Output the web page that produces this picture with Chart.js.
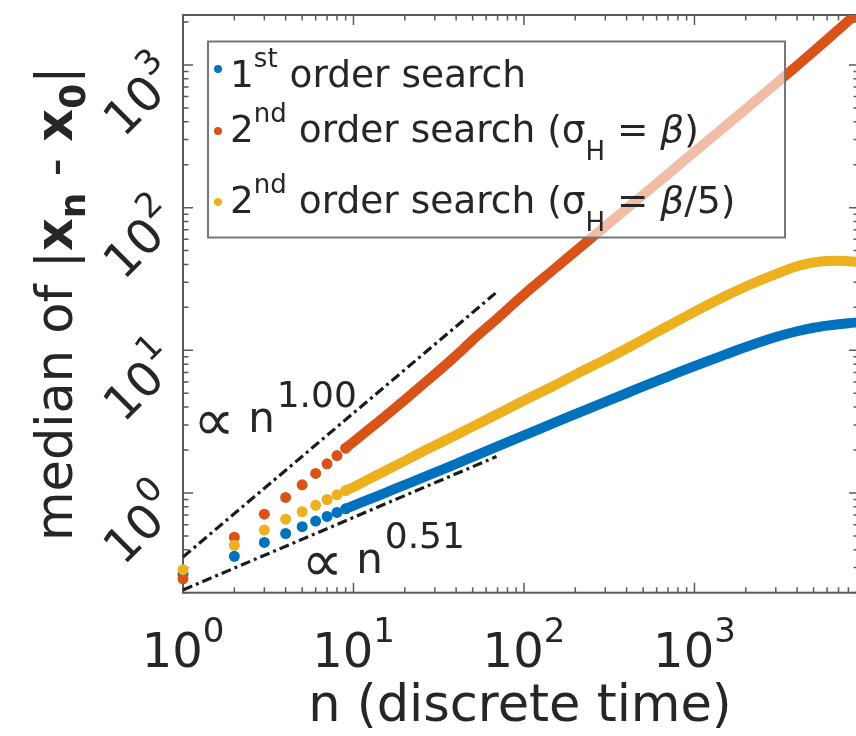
<!DOCTYPE html>
<html>
<head>
<meta charset="utf-8">
<script src="https://cdn.jsdelivr.net/npm/chart.js@4.4.1/dist/chart.umd.min.js"></script>
<style>
  html, body { margin: 0; padding: 0; background: #fff; overflow: hidden; width: 856px; height: 736px; }
  canvas { display: block; }
</style>
</head>
<body>
<canvas id="chart" width="870" height="736"></canvas>
<script>
// discrete time steps sampled along each curve
const nSteps = [1, 2, 3, 4, 5, 6, 7, 8, 9, 10, 12, 15, 20, 25, 30, 40, 50, 70, 100, 150,
                200, 300, 400, 500, 700, 1000, 1500, 2000, 3000, 4000, 5000, 6000, 7000, 8000, 9200];

// median of |x_n - x_0| for each search strategy
const firstOrder = [0.27, 0.36, 0.45, 0.52, 0.58, 0.635, 0.685, 0.73, 0.775, 0.815, 0.89, 0.99, 1.14, 1.27, 1.39, 1.6, 1.79, 2.12, 2.53, 3.1,
                    3.57, 4.35, 5.0, 5.58, 6.55, 7.75, 9.3, 10.55, 12.4, 13.6, 14.4, 14.9, 15.25, 15.5, 15.7];
const secondOrderBeta = [0.25, 0.49, 0.71, 0.93, 1.14, 1.37, 1.6, 1.83, 2.06, 2.28, 2.72, 3.38, 4.5, 5.65, 6.8, 9.2, 11.8, 16.8, 24.6, 37,
                         49.3, 74, 98.5, 123, 172, 246, 368, 490, 738, 990, 1245, 1505, 1770, 2040, 2370];
const secondOrderBetaFifth = [0.29, 0.43, 0.55, 0.655, 0.74, 0.82, 0.9, 0.97, 1.04, 1.1, 1.23, 1.41, 1.68, 1.93, 2.15, 2.55, 2.92, 3.58, 4.45, 5.65,
                              6.75, 8.6, 10.3, 11.9, 14.8, 18.6, 23.8, 28.0, 34.2, 38.8, 41.3, 42.3, 42.4, 42.1, 41.7];

// power-law guide lines (endpoints)
const guideLinearN = [1, 69];
const guideLinearV = [0.356, 25.5];
const guideSqrtN = [1, 69];
const guideSqrtV = [0.209, 1.80];
const guideLinearLabel = { n: 1.15, v: 2.68, exponent: '1.00' };
const guideSqrtLabel = { n: 4.95, v: 0.275, exponent: '0.51' };

// axis limits and decade labels
const xMin = 1, xMax = 9230;
const yMin = 0.2, yMax = 2240;
const xTickExponents = ['0', '1', '2', '3'];
const yTickExponents = ['0', '1', '2', '3'];

const xTitle = 'n (discrete time)';

const BLUE = '#0072BD', RED = '#D95319', YELLOW = '#EDB120';
const INK = '#262626';
const FONT = '"DejaVu Sans", "Liberation Sans", sans-serif';

const MAIN = 37.5, SMALL = 26;
const legendRows = [
  { color: BLUE, parts: [
    { t: '1', size: MAIN }, { t: 'st', size: SMALL, dy: -20 }, { t: ' order search', size: MAIN } ] },
  { color: RED, parts: [
    { t: '2', size: MAIN }, { t: 'nd', size: SMALL, dy: -20 }, { t: ' order search (', size: MAIN },
    { t: 'σ', size: MAIN }, { t: 'H', size: SMALL, dy: 18 }, { t: ' = ', size: MAIN },
    { t: 'β', size: MAIN, style: 'italic' }, { t: ')', size: MAIN } ] },
  { color: YELLOW, parts: [
    { t: '2', size: MAIN }, { t: 'nd', size: SMALL, dy: -20 }, { t: ' order search (', size: MAIN },
    { t: 'σ', size: MAIN }, { t: 'H', size: SMALL, dy: 18 }, { t: ' = ', size: MAIN },
    { t: 'β', size: MAIN, style: 'italic' }, { t: '/5)', size: MAIN } ] }
];

const yTitleParts = [
  { t: 'median of |', size: 51 },
  { t: 'x', size: 51, weight: 'bold' },
  { t: 'n', size: 36, weight: 'bold', dy: 13 },
  { t: ' - ', size: 51 },
  { t: 'x', size: 51, weight: 'bold' },
  { t: '0', size: 36, weight: 'bold', dy: 13 },
  { t: '|', size: 51 }
];

function setFont(ctx, p) {
  ctx.font = `${p.style || 'normal'} ${p.weight || 'normal'} ${p.size}px ${FONT}`;
}
function partsWidth(ctx, parts) {
  let w = 0;
  for (const p of parts) { setFont(ctx, p); w += ctx.measureText(p.t).width; }
  return w;
}
function drawParts(ctx, x, y, parts) {
  for (const p of parts) {
    setFont(ctx, p);
    ctx.fillText(p.t, x, y + (p.dy || 0));
    x += ctx.measureText(p.t).width;
  }
  return x;
}
function tickValues(min, max) {
  const out = [];
  for (let e = Math.floor(Math.log10(min)); e <= Math.ceil(Math.log10(max)); e++) {
    for (let k = 1; k <= 9; k++) {
      const v = k * Math.pow(10, e);
      if (v >= min * 0.9999 && v <= max * 1.0001) out.push({ v, major: k === 1 });
    }
  }
  return out;
}

// box and inward tick marks on all four sides
const frameAndTicks = {
  id: 'frameAndTicks',
  beforeDatasetsDraw(chart) {
    const { ctx, chartArea: a, scales: { x, y } } = chart;
    ctx.save();
    ctx.strokeStyle = '#5a5a5a';
    ctx.lineWidth = 1.5;
    ctx.beginPath();
    for (const t of tickValues(x.min, x.max)) {
      const px = x.getPixelForValue(t.v);
      const len = t.major ? 10 : 5.5;
      ctx.moveTo(px, a.bottom); ctx.lineTo(px, a.bottom - len);
      ctx.moveTo(px, a.top); ctx.lineTo(px, a.top + len);
    }
    for (const t of tickValues(y.min, y.max)) {
      const py = y.getPixelForValue(t.v);
      const len = t.major ? 10 : 5.5;
      ctx.moveTo(a.left, py); ctx.lineTo(a.left + len, py);
      ctx.moveTo(a.right, py); ctx.lineTo(a.right - len, py);
    }
    ctx.stroke();
    ctx.lineWidth = 2;
    ctx.strokeRect(a.left, a.top, a.right - a.left, a.bottom - a.top);
    ctx.restore();
  }
};

// tick labels, axis titles, guide-line labels and legend
const textLayer = {
  id: 'textLayer',
  afterDraw(chart) {
    const { ctx, chartArea: a, scales: { x, y } } = chart;
    ctx.save();
    ctx.fillStyle = INK;
    ctx.textBaseline = 'alphabetic';
    ctx.textAlign = 'left';

    // x decade labels
    for (const e of xTickExponents) {
      const px = x.getPixelForValue(Math.pow(10, +e));
      const parts = [{ t: '10', size: 48 }, { t: e, size: 34, dy: -25 }];
      drawParts(ctx, px - partsWidth(ctx, parts) / 2, 667, parts);
    }
    // y decade labels, rotated
    for (const e of yTickExponents) {
      const py = y.getPixelForValue(Math.pow(10, +e));
      const parts = [{ t: '10', size: 48 }, { t: e, size: 34, dy: -25 }];
      const w = partsWidth(ctx, parts);
      ctx.save();
      ctx.translate(a.left - 13, py + 3);
      ctx.rotate(-Math.PI / 4);
      drawParts(ctx, -w, 17, parts);
      ctx.restore();
    }

    // x title
    ctx.font = `51px ${FONT}`;
    ctx.textAlign = 'center';
    ctx.fillText(xTitle, (a.left + a.right - 2) / 2, 721);
    ctx.textAlign = 'left';

    // y title
    ctx.save();
    ctx.translate(72, (a.top + a.bottom) / 2);
    ctx.rotate(-Math.PI / 2);
    drawParts(ctx, -partsWidth(ctx, yTitleParts) / 2, 0, yTitleParts);
    ctx.restore();

    // guide-line labels
    for (const g of [guideLinearLabel, guideSqrtLabel]) {
      const gx = x.getPixelForValue(g.n), gy = y.getPixelForValue(g.v);
      drawParts(ctx, gx, gy, [
        { t: '∝', size: 58, dy: 8 }, { t: ' n', size: 42 }, { t: ' ', size: 6 },
        { t: g.exponent, size: 36, dy: -25 }
      ]);
    }

    // legend box
    const L = { left: 208, top: 41.5, right: 785, bottom: 237.5 };
    ctx.fillStyle = 'rgba(255,255,255,0.62)';
    ctx.fillRect(L.left, L.top, L.right - L.left, L.bottom - L.top);
    ctx.strokeStyle = '#777';
    ctx.lineWidth = 2;
    ctx.strokeRect(L.left, L.top, L.right - L.left, L.bottom - L.top);
    const dotY = [69, 131, 202];
    const baseY = [87, 142, 213];
    legendRows.forEach((row, i) => {
      ctx.fillStyle = row.color;
      ctx.beginPath();
      ctx.arc(218, dotY[i], 4, 0, Math.PI * 2);
      ctx.fill();
      ctx.fillStyle = INK;
      drawParts(ctx, 230, baseY[i], row.parts);
    });
    ctx.restore();
  }
};

function points(values) {
  return nSteps.map((n, i) => ({ x: n, y: values[i] }));
}
function curve(label, values, color, order) {
  return {
    label,
    data: points(values),
    showLine: true,
    borderColor: color,
    backgroundColor: color,
    borderWidth: 10,
    borderCapStyle: 'round',
    borderJoinStyle: 'round',
    cubicInterpolationMode: 'monotone',
    pointRadius: c => (nSteps[c.dataIndex] <= 9 ? 5.5 : 0),
    pointHoverRadius: 0,
    pointBorderWidth: 0,
    pointBackgroundColor: color,
    segment: { borderColor: c => (nSteps[c.p0DataIndex] < 9 ? 'rgba(0,0,0,0)' : undefined) },
    clip: { left: 8, top: 0, right: 0, bottom: 8 },
    order
  };
}
function guide(nArr, vArr) {
  return {
    data: nArr.map((n, i) => ({ x: n, y: vArr[i] })),
    showLine: true,
    borderColor: '#1c1c1c',
    borderWidth: 3.2,
    borderDash: [10, 4, 3, 4],
    pointRadius: 0,
    order: 0
  };
}

new Chart(document.getElementById('chart'), {
  type: 'scatter',
  data: {
    datasets: [
      curve('1st order search', firstOrder, BLUE, 3),
      curve('2nd order search (σH = β)', secondOrderBeta, RED, 2),
      curve('2nd order search (σH = β/5)', secondOrderBetaFifth, YELLOW, 1),
      guide(guideLinearN, guideLinearV),
      guide(guideSqrtN, guideSqrtV)
    ]
  },
  options: {
    responsive: false,
    animation: false,
    events: [],
    layout: { padding: { top: 15, right: 11, left: 0, bottom: 0 } },
    scales: {
      x: {
        type: 'logarithmic', position: 'bottom', min: xMin, max: xMax,
        grid: { display: false }, border: { display: false }, ticks: { display: false },
        afterFit: s => { s.height = 143.3; }
      },
      y: {
        type: 'logarithmic', position: 'left', min: yMin, max: yMax,
        grid: { display: false }, border: { display: false }, ticks: { display: false },
        afterFit: s => { s.width = 183; }
      }
    },
    plugins: { legend: { display: false }, tooltip: { enabled: false } }
  },
  plugins: [frameAndTicks, textLayer]
});
</script>
</body>
</html>
